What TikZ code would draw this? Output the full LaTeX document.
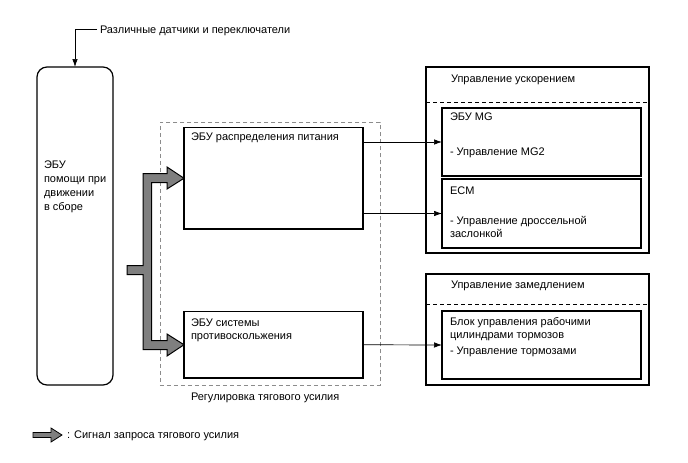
\documentclass[tikz,border=0pt]{standalone}
\usepackage{fontspec}
\setmainfont{Liberation Sans}
\usetikzlibrary{arrows.meta}
\definecolor{arrowgray}{HTML}{7F7F7F}
\definecolor{dashgray}{HTML}{8C8C8C}
\begin{document}
\begin{tikzpicture}[x=1pt,y=-1pt,
  font=\fontsize{11}{13}\selectfont,
  box/.style={draw, line width=1.2pt, anchor=north west, inner sep=0pt, outer sep=0pt},
  ibox/.style={box, line width=1.4pt},
  lbl/.style={anchor=base west, inner sep=0pt, outer sep=0pt},
  sig/.style={-{Latex[length=8pt,width=5.5pt]}, line width=0.7pt},
  sep/.style={dashed, dash pattern=on 4pt off 3pt, line width=0.8pt},
  grp/.style={draw=dashgray, dash pattern=on 4pt off 3pt, line width=0.9pt},
  fat/.style={draw=black, fill=arrowgray, line width=1pt, line join=miter}]
\useasboundingbox (0,0) rectangle (688,463);

% sensors
\node[lbl] (sens) at (100,33) {Различные датчики и переключатели};

% left ECU
\node[box, rounded corners=10pt, minimum width=76pt, minimum height=318pt] (ecu) at (37,67) {};
\node[lbl] (e1) at (44,168.5) {ЭБУ};
\node[lbl] (e2) at (44,182.5) {помощи при};
\node[lbl] (e3) at (44,196.3) {движении};
\node[lbl] (e4) at (44,210) {в сборе};
\coordinate (sensend) at (97,29);
\draw[sig] (sensend) -| (ecu.north);

% traction control group
\node[grp, anchor=north west, inner sep=0pt, minimum width=220.5pt, minimum height=262.5pt] (group) at (159.5,122) {};
\node[lbl] (grplbl) at (191,400) {Регулировка тягового усилия};

\node[box, minimum width=179pt, minimum height=101.5pt] (power) at (184,127.5) {};
\node[lbl] (p1) at (191,140) {ЭБУ распределения питания};

\node[box, minimum width=179pt, minimum height=66.5pt] (slip) at (184,311.5) {};
\node[lbl] (s1) at (191,326) {ЭБУ системы};
\node[lbl] (s2) at (191,339) {противоскольжения};

% acceleration control
\node[box, minimum width=223pt, minimum height=186pt] (acc) at (426,67) {};
\node[lbl] (a0) at (451,82) {Управление ускорением};
\draw[sep] ([yshift=-35.5pt]acc.north west) -- ([yshift=-35.5pt]acc.north east);
\node[ibox, minimum width=199pt, minimum height=68pt] (mg) at (442,108) {};
\node[lbl] (m1) at (450,120.5) {ЭБУ MG};
\node[lbl] (m2) at (450,155) {- Управление MG2};
\node[ibox, minimum width=199pt, minimum height=69pt] (ecm) at (442,179) {};
\node[lbl] (c1) at (450,194) {ECM};
\node[lbl] (c2) at (450,224) {- Управление дроссельной};
\node[lbl] (c3) at (450,237.5) {заслонкой};

% deceleration control
\node[box, minimum width=223pt, minimum height=111pt] (dec) at (426,274) {};
\node[lbl] (d0) at (451,288.5) {Управление замедлением};
\draw[sep] ([yshift=-30.5pt]dec.north west) -- ([yshift=-30.5pt]dec.north east);
\node[ibox, minimum width=199pt, minimum height=68pt] (brk) at (442,311) {};
\node[lbl] (b1) at (450,325) {Блок управления рабочими};
\node[lbl] (b2) at (450,338.5) {цилиндрами тормозов};
\node[lbl] (b3) at (450,354) {- Управление тормозами};

% signal arrows
\draw[sig] (power.east |- mg.west) -- (mg.west);
\draw[sig] (power.east |- ecm.west) -- (ecm.west);
\draw[sig] (slip.east) -- (brk.west);

% traction request arrow (fat)
\draw[fat] (127,265.5) -- (143,265.5) -- (143,173.5) -- (167,173.5) -- (167,167)
  -- (power.west) -- (167,189) -- (167,182.5) -- (151.5,182.5) -- (151.5,340.5)
  -- (167,340.5) -- (167,334) -- (slip.west) -- (167,356) -- (167,349.5)
  -- (143,349.5) -- (143,274.5) -- (127,274.5) -- cycle;

% legend
\draw[fat, line width=0.8pt] (33,432.5) -- (51,432.5) -- (51,428) -- (62,435) -- (51,442) -- (51,437.5) -- (33,437.5) -- cycle;
\node[lbl] (leg) at (67,438) {: Сигнал запроса тягового усилия};
\end{tikzpicture}
\end{document}
